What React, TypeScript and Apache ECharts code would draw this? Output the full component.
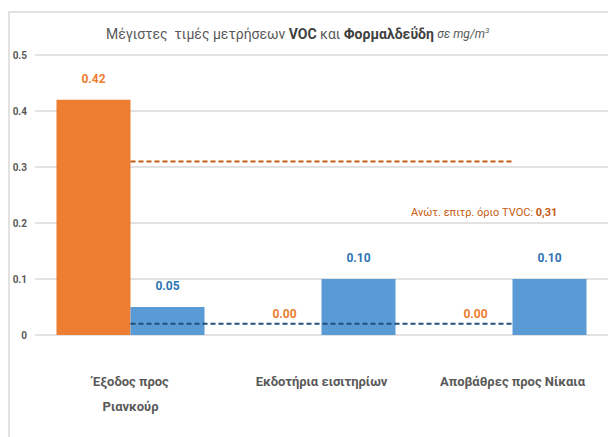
import React, { useEffect, useRef } from "react";
import * as echarts from "echarts";

const categories = ["Έξοδος προς\nΡιανκούρ", "Εκδοτήρια εισιτηρίων", "Αποβάθρες προς Νίκαια"];
const vocValues = [0.42, 0.0, 0.0];
const formaldehydeValues = [0.05, 0.1, 0.1];
const vocLimit = [0.31, 0.31, 0.31];
const formaldehydeLimit = [0.02, 0.02, 0.02];
const yTicks = { min: 0, max: 0.5, interval: 0.1 };

const FONT = "Roboto, sans-serif";

export default function App() {
  const ref = useRef<HTMLDivElement>(null);
  useEffect(() => {
    if (!ref.current) return;
    const chart = echarts.init(ref.current, null, { renderer: "svg" });
    chart.setOption({
      animation: false,
      backgroundColor: "#ffffff",
      textStyle: { fontFamily: FONT },
      title: {
        left: 101,
        top: 21,
        text: "{n|Μέγιστες  τιμές μετρήσεων }{b|VOC}{n| και }{b|Φορμαλδεΰδη }{i|σε mg/m}{s|3}",
        textStyle: {
          fontWeight: "normal",
          rich: {
            n: { fontFamily: FONT, fontSize: 14, color: "#595959", fontWeight: "normal" },
            b: { fontFamily: FONT, fontSize: 14, color: "#404040", fontWeight: "bold" },
            i: { fontFamily: FONT, fontSize: 12, color: "#595959", fontStyle: "italic", fontWeight: "normal" },
            s: { fontFamily: FONT, fontSize: 8, color: "#595959", fontStyle: "italic", fontWeight: "normal", verticalAlign: "top", padding: [0, 0, 8, 0] },
          },
        },
      },
      graphic: [
        {
          type: "rect",
          shape: { x: 9, y: 12, width: 800, height: 600 },
          style: { fill: "none", stroke: "#D9D9D9", lineWidth: 1.5 },
          silent: true,
          z: -1,
        },
        {
          type: "text",
          x: 411,
          y: 212,
          style: {
            text: "{n|Ανώτ. επιτρ. όριο TVOC: }{b|0,31}",
            verticalAlign: "middle",
            rich: {
              n: { fontFamily: FONT, fontSize: 11, fill: "#C55A11", color: "#C55A11" },
              b: { fontFamily: FONT, fontSize: 11, fill: "#C55A11", color: "#C55A11", fontWeight: "bold" },
            },
          },
        },
      ],
      grid: { left: 35, right: 0, top: 55, bottom: 102, containLabel: false },
      xAxis: {
        type: "category",
        data: categories,
        axisLine: { show: false },
        axisTick: { show: false },
        axisLabel: {
          margin: 34,
          fontFamily: FONT,
          fontSize: 13,
          fontWeight: "bold",
          color: "#595959",
          lineHeight: 25,
          interval: 0,
        },
      },
      yAxis: {
        type: "value",
        min: yTicks.min,
        max: yTicks.max,
        interval: yTicks.interval,
        axisLine: { show: false },
        axisTick: { show: false },
        axisLabel: { fontFamily: FONT, fontSize: 10, fontWeight: "bold", color: "#595959", margin: 8 },
        splitLine: { lineStyle: { color: "#D9D9D9", width: 1.5 } },
      },
      series: [
        {
          name: "VOC",
          type: "bar",
          data: vocValues,
          barGap: "0%",
          barCategoryGap: "22.5%",
          itemStyle: { color: "#ED7D31" },
          label: {
            show: true,
            position: "top",
            distance: 15,
            formatter: (p: any) => Number(p.value).toFixed(2),
            fontFamily: FONT,
            fontSize: 12,
            fontWeight: "bold",
            color: "#ED7D31",
          },
        },
        {
          name: "Φορμαλδεΰδη",
          type: "bar",
          data: formaldehydeValues,
          barGap: "0%",
          barCategoryGap: "22.5%",
          itemStyle: { color: "#5B9BD5" },
          label: {
            show: true,
            position: "top",
            distance: 15,
            formatter: (p: any) => Number(p.value).toFixed(2),
            fontFamily: FONT,
            fontSize: 12,
            fontWeight: "bold",
            color: "#2E75B6",
          },
        },
        {
          name: "Όριο TVOC",
          type: "line",
          data: vocLimit,
          symbol: "none",
          z: 5,
          lineStyle: { color: "#C55A11", width: 2, type: [5, 3] },
        },
        {
          name: "Όριο Φορμαλδεΰδης",
          type: "line",
          data: formaldehydeLimit,
          symbol: "none",
          z: 5,
          lineStyle: { color: "#1F4E79", width: 2, type: [5, 3] },
        },
      ],
    });
    return () => chart.dispose();
  }, []);
  return <div ref={ref} style={{ position: "fixed", left: 0, top: 0, width: 608, height: 437 }} />;
}
